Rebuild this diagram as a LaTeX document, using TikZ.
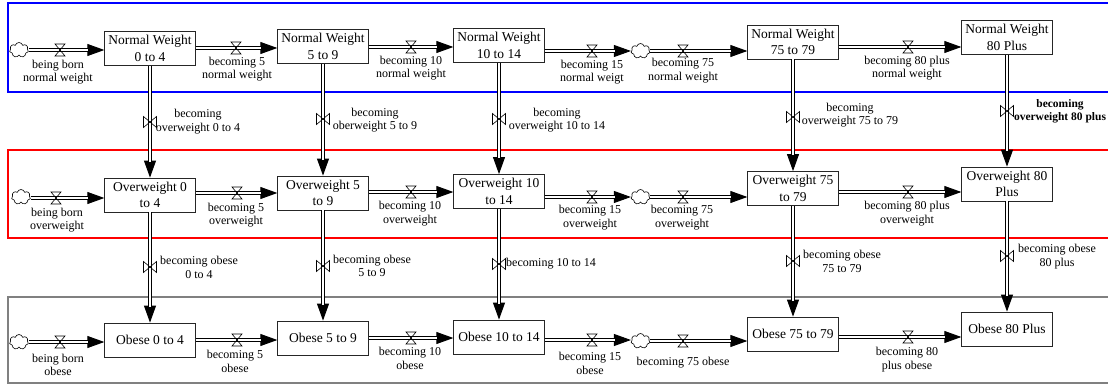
\documentclass[tikz,border=0pt]{standalone}
\usepackage{fontspec}
\setmainfont{Liberation Serif}
\usetikzlibrary{arrows.meta,shapes.symbols}
\tikzset{
  stock/.style={draw=black!85, line width=0.8pt, fill=white, minimum width=90.5pt, minimum height=34pt,
    inner sep=1pt, align=center, font=\fontsize{13.5}{16.5}\selectfont},
  lbl/.style={align=center, inner sep=0pt, font=\fontsize{12}{13.5}\selectfont},
  pipe/.style={draw, double=white, double distance=2pt, line width=0.9pt, shorten >=16pt},
  tipline/.style={draw, line width=0.9pt, -{Triangle[length=17pt,width=12pt]}},
  srccloud/.style={cloud, cloud puffs=7, draw, line width=0.6pt, minimum width=19pt, minimum height=15pt,
    inner sep=0pt, aspect=1.3},
  hvalve/.pic={\draw[line width=0.6pt] (-5,-6) -- (5,-6) -- (-5,6) -- (5,6) -- cycle;},
  vvalve/.pic={\draw[line width=0.6pt] (-6.5,-5.5) -- (-6.5,5.5) -- (6.5,-5.5) -- (6.5,5.5) -- cycle;},
}
\newcommand\hflow[3]{%
  \draw[tipline] (#3 -| #1.east) -- (#3 -| #2.west);
  \draw[pipe] (#3 -| #1.east) -- (#3 -| #2.west);
  \pic at (#3) {hvalve};}
\newcommand\vflow[3]{%
  \draw[tipline] (#1.south) -- (#2.north);
  \draw[pipe] (#1.south) -- (#2.north);
  \pic at (#3) {vvalve};}
\begin{document}
\begin{tikzpicture}[x=1pt,y=-1pt]
\clip (0,0) rectangle (1108,385);
\fill[white] (0,0) rectangle (1108,385);
% sector frames
\draw[blue, line width=1.5pt] (8,3) rectangle (1120,92);
\draw[red, line width=1.5pt] (8,150) rectangle (1120,238);
\draw[gray, line width=1.3pt] (8,297) rectangle (1120,383);

% stocks
\node[stock] (nw0) at (150,48.5) {Normal Weight\\0 to 4};
\node[stock] (nw5) at (323,46.5) {Normal Weight\\5 to 9};
\node[stock] (nw10) at (499,45.5) {Normal Weight\\10 to 14};
\node[stock] (nw75) at (793,42) {Normal Weight\\75 to 79};
\node[stock] (nw80) at (1007,37.5) {Normal Weight\\80 Plus};

\node[stock] (ow0) at (150,195) {Overweight 0\\to 4};
\node[stock] (ow5) at (323,193) {Overweight 5\\to 9};
\node[stock] (ow10) at (499,191.5) {Overweight 10\\to 14};
\node[stock] (ow75) at (793,188.5) {Overweight 75\\to 79};
\node[stock] (ow80) at (1007,184) {Overweight 80\\Plus};

\node[stock] (ob0) at (150,340) {Obese 0 to 4};
\node[stock] (ob5) at (323,338) {Obese 5 to 9};
\node[stock] (ob10) at (499,337) {Obese 10 to 14};
\node[stock] (ob75) at (793,334) {Obese 75 to 79};
\node[stock] (ob80) at (1007,329) {Obese 80 Plus};

% clouds
\node[srccloud] (cl1) at (19,50) {};
\node[srccloud] (cl2) at (21,197) {};
\node[srccloud] (cl3) at (19,342) {};
\node[srccloud] (cm1) at (640.5,51) {};
\node[srccloud] (cm2) at (640.5,197) {};
\node[srccloud] (cm3) at (640.5,341) {};

% valve coordinates
\coordinate (hb1) at (60,50);   \coordinate (h1a) at (236,48);  \coordinate (h1b) at (411,47);
\coordinate (h1c) at (592,51);  \coordinate (h1d) at (683,51);  \coordinate (h1e) at (908,47);
\coordinate (hb2) at (56,198);  \coordinate (h2a) at (237,193); \coordinate (h2b) at (411,192);
\coordinate (h2c) at (592,197); \coordinate (h2d) at (683,197); \coordinate (h2e) at (908,192);
\coordinate (hb3) at (60,342);  \coordinate (h3a) at (237,340); \coordinate (h3b) at (411,338);
\coordinate (h3c) at (592,340); \coordinate (h3d) at (683,341); \coordinate (h3e) at (908,337);

\coordinate (vA1) at (150,122); \coordinate (vA2) at (323,119); \coordinate (vA3) at (499,119);
\coordinate (vA4) at (793,117); \coordinate (vA5) at (1007,111);
\coordinate (vB1) at (150,267); \coordinate (vB2) at (323,266); \coordinate (vB3) at (499,264);
\coordinate (vB4) at (793,261); \coordinate (vB5) at (1007,256);

% horizontal flows
\hflow{cl1}{nw0}{hb1} \hflow{nw0}{nw5}{h1a} \hflow{nw5}{nw10}{h1b}
\hflow{nw10}{cm1}{h1c} \hflow{cm1}{nw75}{h1d} \hflow{nw75}{nw80}{h1e}
\hflow{cl2}{ow0}{hb2} \hflow{ow0}{ow5}{h2a} \hflow{ow5}{ow10}{h2b}
\hflow{ow10}{cm2}{h2c} \hflow{cm2}{ow75}{h2d} \hflow{ow75}{ow80}{h2e}
\hflow{cl3}{ob0}{hb3} \hflow{ob0}{ob5}{h3a} \hflow{ob5}{ob10}{h3b}
\hflow{ob10}{cm3}{h3c} \hflow{cm3}{ob75}{h3d} \hflow{ob75}{ob80}{h3e}

% vertical flows
\vflow{nw0}{ow0}{vA1} \vflow{nw5}{ow5}{vA2} \vflow{nw10}{ow10}{vA3}
\vflow{nw75}{ow75}{vA4} \vflow{nw80}{ow80}{vA5}
\vflow{ow0}{ob0}{vB1} \vflow{ow5}{ob5}{vB2} \vflow{ow10}{ob10}{vB3}
\vflow{ow75}{ob75}{vB4} \vflow{ow80}{ob80}{vB5}

% flow labels, row 1
\node[lbl] (lhb1) at (58,72) {being born\\normal weight};
\node[lbl] (lh1a) at (237,69) {becoming 5\\normal weight};
\node[lbl] (lh1b) at (411,68) {becoming 10\\normal weight};
\node[lbl] (lh1c) at (592,72) {becoming 15\\normal weigt};
\node[lbl] (lh1d) at (683,70.5) {becoming 75\\normal weight};
\node[lbl] (lh1e) at (907,68) {becoming 80 plus\\normal weight};
% row 1 -> 2
\node[lbl] (lvA1) at (198,121.5) {becoming\\overweight 0 to 4};
\node[lbl] (lvA2) at (375,120) {becoming\\oberweight 5 to 9};
\node[lbl] (lvA3) at (557,120) {becoming\\overweight 10 to 14};
\node[lbl] (lvA4) at (850,115) {becoming\\overweight 75 to 79};
\node[lbl, font=\fontsize{11.5}{13.5}\selectfont\bfseries] (lvA5) at (1060,111.5) {becoming\\overweight 80 plus};
% row 2
\node[lbl] (lhb2) at (57,220) {being born\\overweight};
\node[lbl] (lh2a) at (236,215) {becoming 5\\overweight};
\node[lbl] (lh2b) at (410,213.5) {becoming 10\\overweight};
\node[lbl] (lh2c) at (590,217.5) {becoming 15\\overweight};
\node[lbl] (lh2d) at (682,217.5) {becoming 75\\overweight};
\node[lbl] (lh2e) at (907,213.5) {becoming 80 plus\\overweight};
% row 2 -> 3
\node[lbl] (lvB1) at (199,267.5) {becoming obese\\0 to 4};
\node[lbl] (lvB2) at (372,266) {becoming obese\\5 to 9};
\node[lbl] (lvB3) at (551,264) {becoming 10 to 14};
\node[lbl] (lvB4) at (842,261.5) {becoming obese\\75 to 79};
\node[lbl] (lvB5) at (1057,256.5) {becoming obese\\80 plus};
% row 3
\node[lbl] (lhb3) at (58,365) {being born\\obese};
\node[lbl] (lh3a) at (235,361.5) {becoming 5\\obese};
\node[lbl] (lh3b) at (410,358.5) {becoming 10\\obese};
\node[lbl] (lh3c) at (590,363.5) {becoming 15\\obese};
\node[lbl] (lh3d) at (683,363) {becoming 75 obese};
\node[lbl] (lh3e) at (907,359.5) {becoming 80\\plus obese};
\end{tikzpicture}
\end{document}
